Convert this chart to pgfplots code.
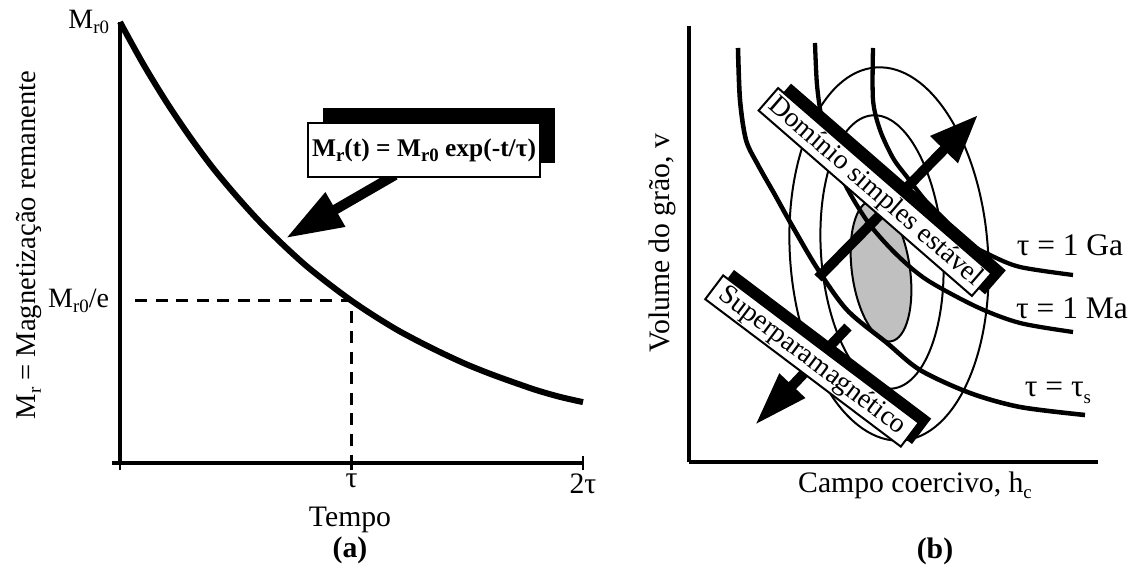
\documentclass[border=0pt]{standalone}
\usepackage{fontspec}
\setmainfont{Liberation Serif}
\usepackage{pgfplots}
\pgfplotsset{compat=1.18}
\usetikzlibrary{arrows.meta}
\definecolor{lgray}{RGB}{192,192,192}
\newcommand{\lab}{\fontsize{10.4}{12}\selectfont}
\newcommand{\sub}[1]{\raisebox{-0.45ex}{\fontsize{6.6}{7}\selectfont #1}}
\pgfplotsset{
  panela/.style={at={(42pt,36.4pt)}, anchor=origin, x=81.025pt, y=154.35pt,
     xmin=0, xmax=2, ymin=0, ymax=1, clip=false},
  panelb/.style={at={(241.15pt,36.75pt)}, anchor=origin, x=0.35pt, y=0.35pt,
     xmin=0, xmax=409, ymin=0, ymax=436, clip=false},
}

\begin{document}
\begin{tikzpicture}
\useasboundingbox (0,0) rectangle (396.55pt,198.45pt);
% ---------------- panel (a) ----------------
\begin{axis}[
  panela,
  axis lines=left, axis line style={-, line width=1.2pt},
  xtick={0,1,2}, xticklabels={{},{\mbox{τ}},{\mbox{2τ}}},
  ytick={0.3679,1}, yticklabels={{M\sub{r0}/e},{M\sub{r0}}},
  tick align=center, major tick length=5pt,
  xtick style={line width=0.9pt, black},
  ytick style={draw=none},
  tick label style={font=\lab},
  xticklabel style={yshift=2.2pt},
  yticklabel style={xshift=2.2pt, font=\fontsize{9.8}{11}\selectfont},
]
\addplot[line width=2.1pt, smooth, black] coordinates {
 (0,1.000) (0.1,0.905) (0.2,0.819) (0.3,0.741) (0.4,0.670) (0.5,0.607)
 (0.6,0.549) (0.7,0.497) (0.8,0.449) (0.9,0.407) (1.0,0.368) (1.1,0.333)
 (1.2,0.301) (1.3,0.273) (1.4,0.247) (1.5,0.223) (1.6,0.202) (1.7,0.183)
 (1.8,0.165) (1.9,0.150) (2.0,0.138)};
\draw[line width=0.9pt, dash pattern=on 4.2pt off 3pt] (axis cs:0.065,0.3679) -- (axis cs:1,0.3679) -- (axis cs:1,0);
\draw[line width=1.2pt] (axis cs:-0.035,0) -- (axis cs:0,0);
\node[rotate=90, font=\fontsize{10}{12}\selectfont] at (axis cs:-0.395,0.494) {M\sub{r} = Magnetização remanente};
\node[font=\lab] at (axis cs:0.9935,-0.129) {Tempo};
\node[font=\lab\bfseries] at (axis cs:0.9935,-0.197) {(a)};
\end{axis}
\begin{axis}[panela, axis lines=none]
\draw[line width=3.5pt, -{Triangle[length=20pt,width=13pt]}] (axis cs:1.188,0.653) -- (axis cs:0.717,0.510);
\end{axis}
\begin{axis}[panela, axis lines=none]
\node[fill=black, minimum width=81.2pt, minimum height=19.5pt, inner sep=0pt] at (axis cs:1.380,0.7426) {};
\node[fill=white, draw=black, line width=0.8pt, minimum width=81.2pt, minimum height=18.9pt, inner sep=0pt,
      font=\fontsize{8.9}{10}\selectfont\bfseries] at (axis cs:1.3132,0.7098)
      {M\sub{r}(t) = M\sub{r0} exp(-t/τ)};
\end{axis}
% ---------------- panel (b) ----------------
\begin{axis}[panelb, axis lines=left, axis line style={-, line width=1.1pt}, ticks=none]
\draw[fill=lgray, line width=0.7pt, rotate around={8:(axis cs:192,191)}] (axis cs:192,191) ellipse [x radius=10.15pt, y radius=24.85pt];
\node[rotate=90, font=\lab] at (axis cs:-27,219) {Volume do grão, v};
\node[font=\lab] at (axis cs:226,-23) {Campo coercivo, h\sub{c}};
\node[font=\lab\bfseries] at (axis cs:246,-89) {(b)};
\end{axis}
\begin{axis}[panelb, axis lines=none]
\addplot[line width=1.6pt, smooth, black] coordinates {
 (49,414) (51,362) (57,322) (69,297) (86,267) (101,240) (128,194) (158,152)
 (198,119) (231,92) (281,69) (331,55) (396,47)};
\addplot[line width=1.5pt, smooth, black] coordinates {
 (126,419) (128,377) (133,342) (143,307) (159,272) (181,237) (208,207)
 (238,182) (288,155) (331,139) (384,130)};
\addplot[line width=1.5pt, smooth, black] coordinates {
 (184,414) (184,362) (191,332) (204,304) (218,285) (236,262) (256,242)
 (274,222) (301,207) (331,195) (384,187)};
\draw[line width=0.7pt, rotate around={4:(axis cs:200,208)}] (axis cs:200,208) ellipse [x radius=34.65pt, y radius=65.45pt];
\draw[line width=0.7pt, rotate around={4:(axis cs:193,210)}] (axis cs:193,210) ellipse [x radius=21.35pt, y radius=47.95pt];
\node[font=\fontsize{11}{13}\selectfont] at (axis cs:381,217) {τ = 1 Ga};
\node[font=\fontsize{11}{13}\selectfont] at (axis cs:383,154) {τ = 1 Ma};
\node[font=\fontsize{11}{13}\selectfont] at (axis cs:369,69) {τ = τ\sub{s}};
\end{axis}
\begin{axis}[panelb, axis lines=none]
\draw[line width=3.5pt, -{Triangle[length=17pt,width=12.6pt]}] (axis cs:129,184) -- (axis cs:289,347);
\draw[line width=3.5pt, -{Triangle[length=19pt,width=11.5pt]}] (axis cs:159,135) -- (axis cs:66,37);
\end{axis}
\begin{axis}[panelb, axis lines=none]
\node[rotate=-41, fill=black, draw=black, line width=0.7pt, inner xsep=1.5pt, inner ysep=0.8pt,
      font=\fontsize{9.7}{11}\selectfont] at (axis cs:199,273) {\phantom{Domínio simples estável}};
\node[rotate=-41, fill=white, draw=black, line width=0.7pt, inner xsep=1.5pt, inner ysep=0.8pt,
      font=\fontsize{9.7}{11}\selectfont] at (axis cs:186,270) {Domínio simples estável};
\node[rotate=-37, fill=black, draw=black, line width=0.7pt, inner xsep=3pt, inner ysep=0.8pt,
      font=\fontsize{9.7}{11}\selectfont] at (axis cs:134,105) {\phantom{Superparamagnético}};
\node[rotate=-37, fill=white, draw=black, line width=0.7pt, inner xsep=3pt, inner ysep=0.8pt,
      font=\fontsize{9.7}{11}\selectfont] at (axis cs:123,101) {Superparamagnético};
\end{axis}
\end{tikzpicture}
\end{document}
